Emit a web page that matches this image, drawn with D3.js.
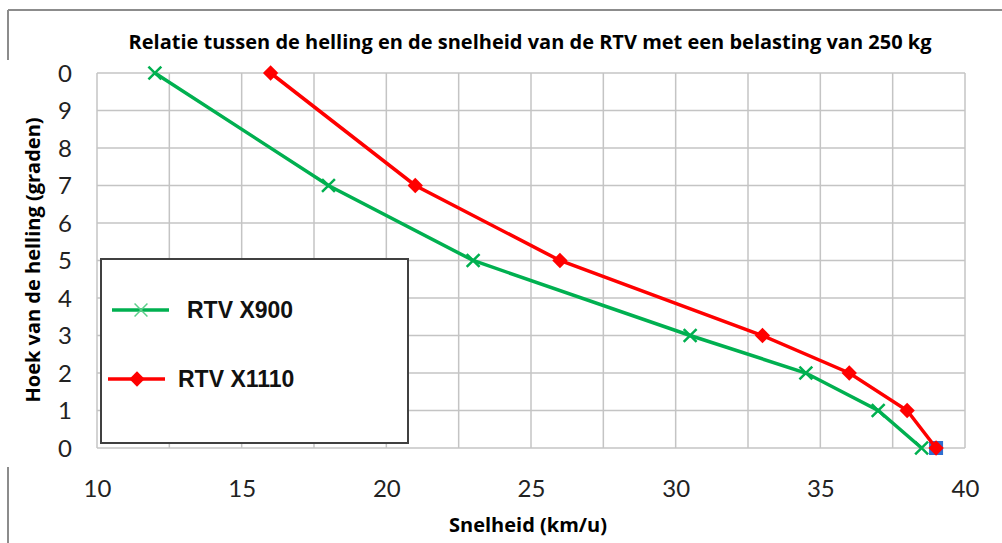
<!DOCTYPE html>
<html>
<head>
<meta charset="utf-8">
<script src="https://cdn.jsdelivr.net/npm/d3@7"></script>
<style>
  body { margin: 0; background: #fff; }
  svg { display: block; }
</style>
</head>
<body>
<script>

var titleText = 'Relatie tussen de helling en de snelheid van de RTV met een belasting van 250 kg'
var xTitle = 'Snelheid (km/u)'
var yTitle = 'Hoek van de helling (graden)'

// speeds (km/u) per slope angle (graden)
var x900Speed = [12, 18, 23, 30.5, 34.5, 37, 38.5]
var x900Angle = [10, 7, 5, 3, 2, 1, 0]
var x1110Speed = [16, 21, 26, 33, 36, 38, 39]
var x1110Angle = [10, 7, 5, 3, 2, 1, 0]
// stray marker hidden behind the last red point
var extraSpeed = [39]
var extraAngle = [0]

var seriesNames = ['RTV X900', 'RTV X1110']
var xTicks = [10, 15, 20, 25, 30, 35, 40]
var xGrid = [10, 12.5, 15, 17.5, 20, 22.5, 25, 27.5, 30, 32.5, 35, 37.5, 40]
var yTicks = [0, 1, 2, 3, 4, 5, 6, 7, 8, 9, 10]
var yTickLabels = ['0', '1', '2', '3', '4', '5', '6', '7', '8', '9', '0']

var chartW = 1002
var chartH = 543
var plotLeft = 97, plotRight = 965, plotTop = 73, plotBottom = 448

var svg = d3.select('body')
            .append('svg')
                .attr('width', chartW)
                .attr('height', chartH)

var xscale = d3.scaleLinear().domain([10, 40]).range([plotLeft, plotRight])
var yscale = d3.scaleLinear().domain([0, 10]).range([plotBottom, plotTop])

// frame pieces of the original screenshot
svg.append('line').attr('x1', 8).attr('x2', chartW).attr('y1', 10).attr('y2', 10)
    .attr('stroke', '#8c8c8c').attr('stroke-width', 2)
svg.append('line').attr('x1', 8).attr('x2', 8).attr('y1', 10).attr('y2', 60)
    .attr('stroke', '#8c8c8c').attr('stroke-width', 2)
svg.append('line').attr('x1', 8).attr('x2', 8).attr('y1', 467).attr('y2', chartH)
    .attr('stroke', '#8c8c8c').attr('stroke-width', 2)

// grid
svg.append('g').selectAll('line')
    .data(xGrid)
    .enter().append('line')
        .attr('x1', d => xscale(d)).attr('x2', d => xscale(d))
        .attr('y1', plotTop).attr('y2', plotBottom)
        .attr('stroke', '#c4c4c4').attr('stroke-width', 1.5)
svg.append('g').selectAll('line')
    .data(yTicks)
    .enter().append('line')
        .attr('x1', plotLeft).attr('x2', plotRight)
        .attr('y1', d => yscale(d)).attr('y2', d => yscale(d))
        .attr('stroke', '#c4c4c4').attr('stroke-width', 1.5)

// axes (labels only, Excel style)
var x_axis = d3.axisBottom(xscale).tickValues(xTicks).tickSize(0).tickPadding(0)
var gx = svg.append('g')
    .attr('transform', 'translate(0,' + (plotBottom + 49) + ')')
    .call(x_axis)
gx.select('.domain').remove()
gx.selectAll('text')
    .attr('dy', 0)
    .style('font-family', 'Lato, "Open Sans", sans-serif')
    .style('font-size', '24px')
    .attr('fill', '#222')

var y_axis = d3.axisLeft(yscale).tickValues(yTicks).tickSize(0).tickPadding(0)
    .tickFormat((d, i) => yTickLabels[i])
var gy = svg.append('g')
    .attr('transform', 'translate(72,0)')
    .call(y_axis)
gy.select('.domain').remove()
gy.selectAll('text')
    .attr('dy', '0.35em')
    .style('font-family', 'Lato, "Open Sans", sans-serif')
    .style('font-size', '24px')
    .attr('fill', '#222')

// titles
svg.append('text')
    .attr('x', 530).attr('y', 49)
    .attr('text-anchor', 'middle')
    .style('font-family', '"Open Sans", Lato, sans-serif')
    .style('font-weight', 'bold')
    .style('font-size', '20px')
    .text(titleText)

svg.append('text')
    .attr('x', 528).attr('y', 532)
    .attr('text-anchor', 'middle')
    .style('font-family', '"Open Sans", Lato, sans-serif')
    .style('font-weight', 'bold')
    .style('font-size', '20px')
    .text(xTitle)

svg.append('text')
    .attr('transform', 'translate(40,260) rotate(-90)')
    .attr('text-anchor', 'middle')
    .style('font-family', '"Open Sans", Lato, sans-serif')
    .style('font-weight', 'bold')
    .style('font-size', '20px')
    .text(yTitle)

// series
var line = d3.line().x(d => xscale(d[0])).y(d => yscale(d[1]))
var green = '#00b050'
var red = '#ff0000'

var x900 = x900Speed.map((s, i) => [s, x900Angle[i]])
var x1110 = x1110Speed.map((s, i) => [s, x1110Angle[i]])
var extra = extraSpeed.map((s, i) => [s, extraAngle[i]])

svg.append('g').selectAll('rect')
    .data(extra)
    .enter().append('rect')
        .attr('x', d => xscale(d[0]) - 7).attr('y', d => yscale(d[1]) - 7)
        .attr('width', 14).attr('height', 14)
        .attr('fill', '#2f6fd0')

svg.append('path').datum(x900)
    .attr('d', line).attr('fill', 'none')
    .attr('stroke', green).attr('stroke-width', 3.5)

svg.append('g').selectAll('path')
    .data(x900)
    .enter().append('path')
        .attr('d', d3.symbol().type(d3.symbolX).size(110))
        .attr('transform', d => 'translate(' + xscale(d[0]) + ',' + yscale(d[1]) + ')')
        .attr('stroke', green).attr('stroke-width', 2.5).attr('fill', 'none')

svg.append('path').datum(x1110)
    .attr('d', line).attr('fill', 'none')
    .attr('stroke', red).attr('stroke-width', 3.5)

svg.append('g').selectAll('path')
    .data(x1110)
    .enter().append('path')
        .attr('d', d3.symbol().type(d3.symbolDiamond2).size(150))
        .attr('transform', d => 'translate(' + xscale(d[0]) + ',' + yscale(d[1]) + ')')
        .attr('fill', red)

// legend
var legend = svg.append('g')
legend.append('rect')
    .attr('x', 101).attr('y', 259).attr('width', 307).attr('height', 184)
    .attr('fill', '#fff').attr('stroke', '#404040').attr('stroke-width', 2)

var legendY = [310, 379]
var legendX = [112, 108]
var legendColors = [green, red]
seriesNames.forEach(function(name, i) {
    legend.append('line')
        .attr('x1', legendX[i]).attr('x2', legendX[i] + 57)
        .attr('y1', legendY[i]).attr('y2', legendY[i])
        .attr('stroke', legendColors[i]).attr('stroke-width', 3.5)
    var sym = i == 0 ? d3.symbol().type(d3.symbolX).size(110) : d3.symbol().type(d3.symbolDiamond2).size(150)
    var mark = legend.append('path')
        .attr('d', sym)
        .attr('transform', 'translate(' + (legendX[i] + 29) + ',' + legendY[i] + ')')
    if (i == 0) {
        mark.attr('stroke', '#5ccf8a').attr('stroke-width', 1.5).attr('fill', 'none')
    } else {
        mark.attr('fill', red)
    }
    legend.append('text')
        .attr('x', i == 0 ? 187 : 178).attr('y', legendY[i])
        .attr('dy', '0.36em')
        .style('font-family', '"Liberation Sans", Arial, sans-serif')
        .style('font-weight', 'bold')
        .style('font-size', '23px')
        .attr('fill', '#111')
        .text(name)
})

</script>
</body>
</html>
